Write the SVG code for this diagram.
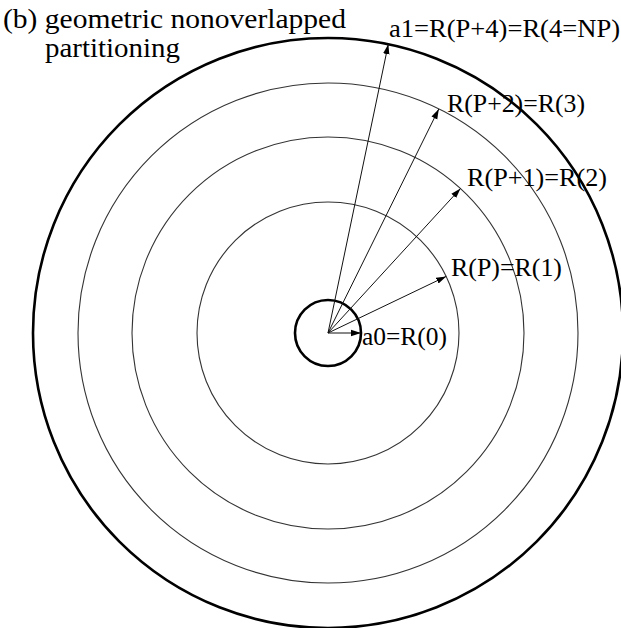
<svg xmlns="http://www.w3.org/2000/svg" width="621" height="628" viewBox="0 0 621 628">
<style>
.t{font-family:"Liberation Serif","Times New Roman",serif;font-size:26px;fill:#000}
.big{font-size:28px}
.ring{fill:none;stroke:#333;stroke-width:1.1}
.bold{fill:none;stroke:#000;stroke-width:2.6}
.arr{stroke:#111;stroke-width:1;fill:none;marker-end:url(#ah)}
</style>
<defs>
<marker id="ah" markerUnits="userSpaceOnUse" markerWidth="12" markerHeight="8" refX="10" refY="4" orient="auto">
<path d="M0,0.8 L10,4 L0,7.2 Z" fill="#000"/>
</marker>
</defs>
<rect width="621" height="628" fill="#fff"/>
<g id="title">
<text class="t big" x="3" y="28" textLength="343" lengthAdjust="spacingAndGlyphs">(b) geometric nonoverlapped</text>
<text class="t big" x="45" y="57" textLength="135" lengthAdjust="spacingAndGlyphs">partitioning</text>
</g>
<g id="outer-circle"><circle class="bold" cx="328" cy="333" r="295"/></g>
<g id="ring3"><circle class="ring" cx="328" cy="333" r="250"/></g>
<g id="ring2"><circle class="ring" cx="328" cy="333" r="196"/></g>
<g id="ring1"><circle class="ring" cx="328" cy="333" r="131"/></g>
<g id="inner-circle"><circle class="bold" cx="328" cy="333" r="33"/></g>
<g id="connectors">
<line class="arr" x1="328" y1="333" x2="361" y2="333"/>
<line class="arr" x1="328" y1="333" x2="446.2" y2="276.4"/>
<line class="arr" x1="328" y1="333" x2="460.5" y2="188.5"/>
<line class="arr" x1="328" y1="333" x2="438.8" y2="109"/>
<line class="arr" x1="328" y1="333" x2="388.3" y2="44.2"/>
</g>
<g id="labels">
<text class="t" x="389" y="37" textLength="231" lengthAdjust="spacingAndGlyphs">a1=R(P+4)=R(4=NP)</text>
<text class="t" x="447" y="112" textLength="138" lengthAdjust="spacingAndGlyphs">R(P+2)=R(3)</text>
<text class="t" x="467" y="186" textLength="140" lengthAdjust="spacingAndGlyphs">R(P+1)=R(2)</text>
<text class="t" x="451" y="276" textLength="111" lengthAdjust="spacingAndGlyphs">R(P)=R(1)</text>
<text class="t" x="362" y="345" textLength="85" lengthAdjust="spacingAndGlyphs">a0=R(0)</text>
</g>
</svg>
